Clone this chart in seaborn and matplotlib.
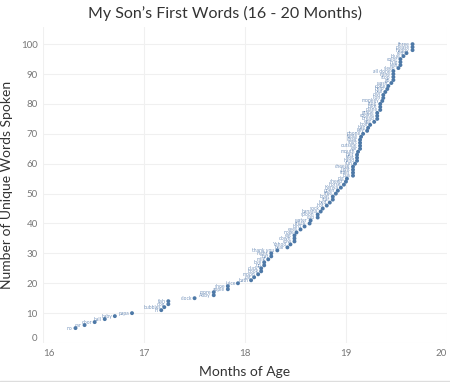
import numpy as np
import pandas as pd
import matplotlib
matplotlib.use('Agg')
import matplotlib.pyplot as plt
import seaborn as sns

# months of age when each new word was first spoken
months = [
    16.32, 16.41, 16.51, 16.61, 16.71, 16.88, 17.17, 17.20, 17.24, 17.24,
    17.50, 17.69, 17.69, 17.83, 17.83, 17.93, 18.06, 18.09, 18.13, 18.16,
    18.16, 18.19, 18.19, 18.23, 18.26, 18.26, 18.32, 18.42, 18.45, 18.49,
    18.49, 18.49, 18.51, 18.55, 18.59, 18.64, 18.65, 18.72, 18.72, 18.75,
    18.77, 18.81, 18.84, 18.87, 18.87, 18.90, 18.92, 18.95, 18.98, 19.00,
    19.01, 19.07, 19.07, 19.07, 19.07, 19.09, 19.11, 19.11, 19.11, 19.12,
    19.14, 19.14, 19.14, 19.14, 19.15, 19.17, 19.21, 19.22, 19.24, 19.28,
    19.31, 19.31, 19.31, 19.34, 19.34, 19.34, 19.36, 19.37, 19.37, 19.39,
    19.41, 19.42, 19.45, 19.47, 19.47, 19.47, 19.47, 19.52, 19.54, 19.54,
    19.54, 19.57, 19.60, 19.66, 19.66, 19.66,
]

# running count of unique words
word_count = [
    5, 6, 7, 8, 9, 10, 11, 12, 13, 14,
    15, 16, 17, 18, 19, 20, 21, 22, 23, 24,
    25, 26, 27, 28, 29, 30, 31, 32, 33, 34,
    35, 36, 37, 38, 39, 40, 41, 42, 43, 44,
    45, 46, 47, 48, 49, 50, 51, 52, 53, 54,
    55, 56, 57, 58, 59, 60, 61, 62, 63, 64,
    65, 66, 67, 68, 69, 70, 71, 72, 73, 74,
    75, 76, 77, 78, 79, 80, 81, 82, 83, 84,
    85, 86, 87, 88, 89, 90, 91, 92, 93, 94,
    95, 96, 97, 98, 99, 100,
]

words = [
    'no', 'car', 'door', 'ball', 'baby', 'papa', 'hi', 'bubbles', 'dog', 'fish',
    'clock', 'Abby', 'more', 'apple', 'shoe', 'juice', 'bath', 'cat', 'moon', 'book',
    'duck', 'up', 'bye', 'milk', 'hat', 'night', 'thank you', 'bear', 'Yahoo', 'cow',
    'down', 'eat', 'nose', 'eyes', 'bird', 'truck', 'water', 'cup', 'spoon', 'banana',
    'sock', 'hot', 'bed', 'star', 'boat', 'tree', 'open', 'Kenya', 'horse', 'sheep',
    'pig', 'bus', 'train', 'light', 'cheese', 'sun', 'hand', 'feet', 'hair', 'mouth',
    'ear', 'outside', 'shirt', 'chair', 'table', 'phone', 'key', 'bag', 'box', 'egg',
    'bread', 'cookie', 'grape', 'plane', 'bike', 'frog', 'monkey', 'lion', 'owl', 'bee',
    'help', 'done', 'wash', 'go', 'stop', 'mine', 'all done', 'sleep', 'kiss', 'hug',
    'color', 'blue', 'red', 'happy', 'please', 'three',
]

df = pd.DataFrame({'Months': months, 'Words': word_count, 'Label': words})

sns.set_style('white')
plt.rcParams['font.family'] = ['Lato', 'DejaVu Sans']

fig = plt.figure(figsize=(4.5, 3.82), dpi=100)
ax = fig.add_axes([0.096, 0.102, 0.897, 0.827])

sns.scatterplot(data=df, x='Months', y='Words', ax=ax, s=8, color='#4e79a7',
                edgecolor='none', zorder=3)

for _, r in df.iterrows():
    ax.annotate(r['Label'], (r['Months'], r['Words']), xytext=(-2, 0),
                textcoords='offset points', ha='right', va='center',
                fontsize=3.6, color='#7896bd', zorder=2)

ax.set_xlim(16, 20)
ax.set_ylim(0, 105.7)
ax.set_xticks([16, 17, 18, 19, 20])
ax.set_yticks(range(0, 101, 10))
ax.grid(True, color='#f0f0f0', linewidth=0.8)
ax.set_axisbelow(True)
for s in ax.spines.values():
    s.set_visible(False)
ax.tick_params(length=0, labelsize=7, labelcolor='#777777', pad=4)
xl = ax.get_xticklabels()
xl[0].set_ha('left')
xl[-1].set_ha('right')
yl = ax.get_yticklabels()
yl[0].set_va('bottom')

ax.set_xlabel('Months of Age', fontsize=10, color='#333333', labelpad=6)
ax.set_ylabel('Number of Unique Words Spoken', fontsize=10, color='#333333', labelpad=6)
fig.suptitle('My Son’s First Words (16 - 20 Months)', fontsize=11.5, color='#333333',
             y=0.985)

# thin rule along the bottom edge, as in the dashboard export
fig.add_artist(plt.Line2D([0, 1], [0.003, 0.003], color='#dddddd', linewidth=1))

fig.savefig('out.png', dpi=100)
